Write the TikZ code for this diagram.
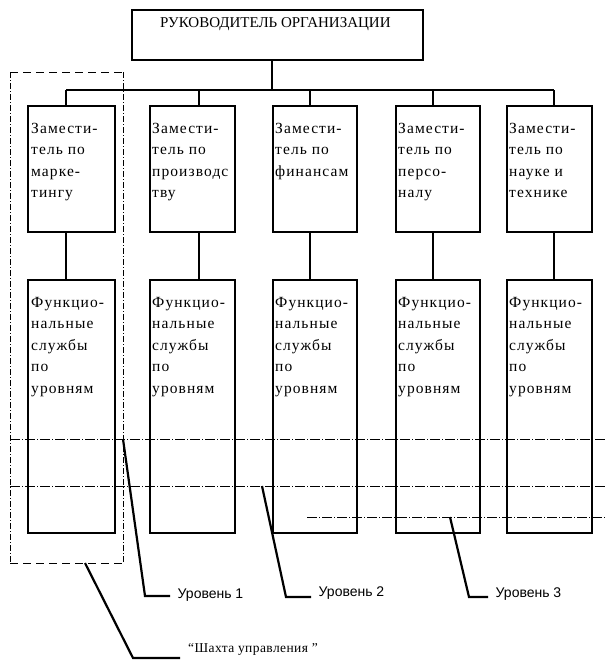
\documentclass[tikz,border=0pt]{standalone}
\usepackage{fontspec}
\setmainfont{Liberation Serif}
\newfontfamily\boxfont[LetterSpace=7]{Liberation Serif}
\newfontfamily\shaftfont[LetterSpace=3]{Liberation Serif}
\newfontfamily\lvlfont{Liberation Sans}
\begin{document}
\begin{tikzpicture}[x=1pt,y=-1pt,
  box/.style={draw,line width=1.8pt,inner sep=0pt,outer sep=0pt},
  conn/.style={line width=1.8pt},
  ptr/.style={line width=2.2pt},
  lvline/.style={line width=0.8pt,dash pattern=on 10pt off 2pt on 1pt off 2pt},
  shafth/.style={line width=0.9pt,dash pattern=on 8pt off 5pt},
  shaftv/.style={line width=0.8pt,dash pattern=on 6pt off 2pt on 1pt off 2pt},
  btext/.style={inner sep=0pt,anchor=base west},
  lvtext/.style={inner sep=0pt,inner xsep=7.5pt,anchor=west,font=\lvlfont\fontsize{14}{16}\selectfont}
]
\useasboundingbox (0,0) rectangle (607,662);
\fill[white] (0,0) rectangle (607,662);

% top box
\node[box,minimum width=291pt,minimum height=50pt] (top) at (277.5,35) {};
\node[btext,font=\fontsize{15}{17}\selectfont] (toptext) at (160,27) {РУКОВОДИТЕЛЬ ОРГАНИЗАЦИИ};

% deputies
\node[box,minimum width=87pt,minimum height=126pt] (d1) at (71.5,169) {};
\node[box,minimum width=85pt,minimum height=126pt] (d2) at (192.5,169) {};
\node[box,minimum width=84pt,minimum height=126pt] (d3) at (315,169) {};
\node[box,minimum width=84pt,minimum height=126pt] (d4) at (438,169) {};
\node[box,minimum width=85pt,minimum height=126pt] (d5) at (549.5,169) {};

% functional services
\node[box,minimum width=87pt,minimum height=253pt] (f1) at (71.5,406.5) {};
\node[box,minimum width=85pt,minimum height=253pt] (f2) at (192.5,406.5) {};
\node[box,minimum width=84pt,minimum height=253pt] (f3) at (315,406.5) {};
\node[box,minimum width=84pt,minimum height=253pt] (f4) at (438,406.5) {};
\node[box,minimum width=85pt,minimum height=253pt] (f5) at (549.5,406.5) {};

% texts
\newcommand\deptext[1]{\parbox[t]{84pt}{\boxfont\fontsize{15.5}{21.5}\selectfont\raggedright #1}}
\node[btext] (t1) at (31,133) {\deptext{Замести-\\тель по\\марке-\\тингу}};
\node[btext] (t2) at (152,133) {\deptext{Замести-\\тель по\\производс\\тву}};
\node[btext] (t3) at (275,133) {\deptext{Замести-\\тель по\\финансам}};
\node[btext] (t4) at (398,133) {\deptext{Замести-\\тель по\\персо-\\налу}};
\node[btext] (t5) at (509,133) {\deptext{Замести-\\тель по\\науке и\\технике}};
\node[btext] (g1) at (31,307) {\deptext{Функцио-\\нальные\\службы\\по\\уровням}};
\node[btext] (g2) at (152,307) {\deptext{Функцио-\\нальные\\службы\\по\\уровням}};
\node[btext] (g3) at (275,307) {\deptext{Функцио-\\нальные\\службы\\по\\уровням}};
\node[btext] (g4) at (398,307) {\deptext{Функцио-\\нальные\\службы\\по\\уровням}};
\node[btext] (g5) at (509,307) {\deptext{Функцио-\\нальные\\службы\\по\\уровням}};

% connectors
\coordinate (bus) at (272,90);
\coordinate (b1) at (66,90);
\coordinate (b2) at (199,90);
\coordinate (b3) at (310,90);
\coordinate (b4) at (433,90);
\coordinate (b5) at (554,90);
\draw[conn] (top.south -| bus) -- (bus);
\draw[conn] (b1) -- (b5);
\foreach \i in {1,...,5}{
  \draw[conn] (b\i) -- (b\i |- d\i.north);
  \draw[conn] (b\i |- d\i.south) -- (b\i |- f\i.north);
}

% level lines
\coordinate (l1a) at (10,439); \coordinate (l1b) at (607,439);
\coordinate (l2a) at (10,486); \coordinate (l2b) at (607,486);
\coordinate (l3a) at (307,517); \coordinate (l3b) at (607,517);
\draw[lvline] (l1a) -- (l1b);
\draw[lvline] (l2a) -- (l2b);
\draw[lvline] (l3a) -- (l3b);

% shaft (dashed box)
\coordinate (s1) at (10,72); \coordinate (s2) at (123,72);
\coordinate (s3) at (123,563); \coordinate (s4) at (10,563);
\draw[shafth] (s1) -- (s2);
\draw[shafth] (s4) -- (s3);
\draw[shaftv] (s1) -- (s4);
\draw[shaftv] (s2) -- (s3);

% pointers and labels
\node[lvtext] (lv1) at (170,595) {Уровень 1};
\node[lvtext] (lv2) at (311,593) {Уровень 2};
\node[lvtext] (lv3) at (488,594) {Уровень 3};
\coordinate (p1s) at (123,439); \coordinate (p1k) at (145,596);
\coordinate (p2s) at (262,486); \coordinate (p2k) at (286,597);
\coordinate (p3s) at (450,517); \coordinate (p3k) at (469,597);
\draw[ptr] (p1s) -- (p1k) -- (p1k -| lv1.west);
\draw[ptr] (p2s) -- (p2k) -- (p2k -| lv2.west);
\draw[ptr] (p3s) -- (p3k) -- (p3k -| lv3.west);

\coordinate (sh1) at (85,563); \coordinate (sh2) at (133,658); \coordinate (sh3) at (180,658);
\draw[ptr] (sh1) -- (sh2) -- (sh3);
\node[btext,font=\shaftfont\fontsize{13.5}{15}\selectfont] (shtext) at (188,652) {“Шахта управления ”};
\end{tikzpicture}
\end{document}
